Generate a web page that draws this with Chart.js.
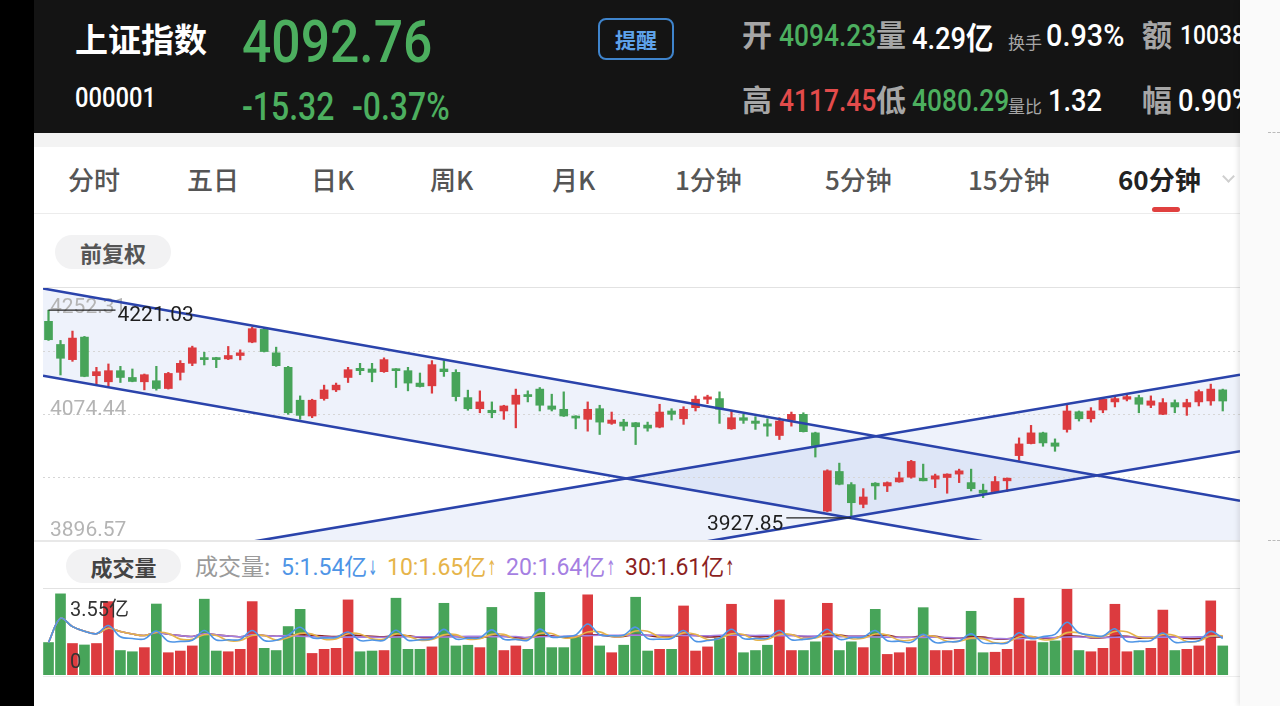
<!DOCTYPE html>
<html><head><meta charset="utf-8">
<script src="https://cdn.jsdelivr.net/npm/chart.js@4.4.1/dist/chart.umd.min.js"></script>
<style>
html,body{margin:0;padding:0;}
body{width:1280px;height:706px;overflow:hidden;background:#000;position:relative;font-family:"Noto Sans CJK SC","Noto Sans",sans-serif;}
.abs{position:absolute;white-space:nowrap;line-height:1;}
.num{font-family:Roboto,"Noto Sans CJK SC",sans-serif;transform-origin:left top;}
.hn{font-weight:500;}
.gray{color:#a6a6a6;font-weight:700;font-size:30px;}
.tab{position:absolute;top:166px;font-size:26px;color:#555;line-height:1;white-space:nowrap;font-weight:500;}
.pill{position:absolute;background:#f2f2f3;border-radius:17px;text-align:center;line-height:34px;height:34px;}
.arr{display:inline-block;font-family:"DejaVu Sans";font-size:20px;transform:scaleX(.55);width:10px;margin-left:-1px;}
</style></head>
<body>
<div style="position:absolute;left:34px;top:0;width:1206px;height:706px;background:#fff"></div>
<div style="position:absolute;left:34px;top:0;width:1206px;height:133px;background:#141414"></div>
<div style="position:absolute;left:34px;top:133px;width:1206px;height:14px;background:#f3f3f3"></div>
<div style="position:absolute;left:34px;top:213px;width:1206px;height:1px;background:#ececec"></div>
<div style="position:absolute;left:43px;top:287px;width:1197px;height:1px;background:#e2e2e2"></div>
<div style="position:absolute;left:34px;top:540px;width:1206px;height:2px;background:#e8e8e8"></div>
<div style="position:absolute;left:43px;top:588px;width:1197px;height:1px;background:#e2e2e2"></div>
<div style="position:absolute;left:43px;top:676px;width:1197px;height:1px;background:#eeeeee"></div>

<!-- header -->
<div class="abs" style="left:75px;top:22px;font-size:33px;font-weight:700;color:#fff">上证指数</div>
<div class="abs num hn" style="left:242px;top:12px;font-size:60px;color:#4caf5f;transform:scaleX(.86)">4092.76</div>
<div class="abs num hn" style="left:75px;top:85px;font-size:27px;color:#fff;transform:scaleX(.88)">000001</div>
<div class="abs num hn" style="left:242px;top:88px;font-size:38px;color:#4caf5f;transform:scaleX(.84)">-15.32</div>
<div class="abs num hn" style="left:352px;top:88px;font-size:38px;color:#4caf5f;transform:scaleX(.84)">-0.37%</div>
<div class="abs" style="left:598px;top:18px;width:72px;height:38px;border:2px solid #3f84cc;border-radius:8px;text-align:center;line-height:38px;font-size:21px;font-weight:700;color:#5ea2ea">提醒</div>

<div class="abs gray" style="left:742px;top:18px">开</div>
<div class="abs num hn" style="left:779px;top:20px;font-size:31px;color:#4caf5f;transform:scaleX(.85)">4094.23</div>
<div class="abs gray" style="left:876px;top:18px">量</div>
<div class="abs num hn" style="left:912px;top:20px;font-size:31px;color:#fff;transform:scaleX(.88)">4.29<span style="font-family:'Noto Sans CJK SC';font-weight:700">亿</span></div>
<div class="abs" style="left:1008px;top:33px;font-size:17px;color:#a6a6a6">换手</div>
<div class="abs num hn" style="left:1046px;top:20px;font-size:31px;color:#fff;transform:scaleX(.93)">0.93%</div>
<div class="abs gray" style="left:1142px;top:18px">额</div>
<div class="abs num hn" style="left:1180px;top:22px;font-size:26px;color:#fff;transform:scaleX(.88)">1003807</div>

<div class="abs gray" style="left:742px;top:83px">高</div>
<div class="abs num hn" style="left:779px;top:85px;font-size:31px;color:#e34b4b;transform:scaleX(.85)">4117.45</div>
<div class="abs gray" style="left:876px;top:83px">低</div>
<div class="abs num hn" style="left:912px;top:85px;font-size:31px;color:#4caf5f;transform:scaleX(.85)">4080.29</div>
<div class="abs" style="left:1008px;top:97px;font-size:17px;color:#a6a6a6">量比</div>
<div class="abs num hn" style="left:1048px;top:85px;font-size:31px;color:#fff;transform:scaleX(.88)">1.32</div>
<div class="abs gray" style="left:1142px;top:83px">幅</div>
<div class="abs num hn" style="left:1178px;top:85px;font-size:31px;color:#fff;transform:scaleX(.88)">0.90%</div>

<!-- tabs -->
<div class="tab" style="left:68px">分时</div>
<div class="tab" style="left:187px">五日</div>
<div class="tab" style="left:311px">日K</div>
<div class="tab" style="left:430px">周K</div>
<div class="tab" style="left:552px">月K</div>
<div class="tab" style="left:675px">1分钟</div>
<div class="tab" style="left:825px">5分钟</div>
<div class="tab" style="left:968px">15分钟</div>
<div class="tab" style="left:1118px;font-weight:700;color:#222">60分钟</div>
<div style="position:absolute;left:1152px;top:207px;width:28px;height:5px;border-radius:3px;background:#e0403f"></div>
<div style="position:absolute;left:1224px;top:172px;width:7px;height:7px;border-right:2px solid #cfcfcf;border-bottom:2px solid #cfcfcf;transform:rotate(45deg)"></div>

<div class="pill" style="left:55px;top:235px;width:116px;font-size:22px;color:#555;font-weight:700">前复权</div>
<div class="pill" style="left:66px;top:549px;width:115px;font-size:22px;color:#444;font-weight:700">成交量</div>
<div id="volLegend"></div>

<canvas id="pc" width="1197" height="252" style="position:absolute;left:43px;top:288px"></canvas>
<canvas id="vc" width="1197" height="86" style="position:absolute;left:43px;top:589px"></canvas>

<div style="position:absolute;left:1240px;top:0;width:40px;height:706px;background:#fafafa;box-shadow:-2px 0 5px rgba(0,0,0,0.10);z-index:5"></div>
<div style="position:absolute;left:1268px;top:132px;width:12px;height:1px;border-top:1px dashed #bbb;z-index:6"></div>
<div style="position:absolute;left:1268px;top:540px;width:12px;height:1px;border-top:1px dashed #bbb;z-index:6"></div>

<script>
// ---------------- data ----------------
const opens = [4205.3,4172.6,4151.2,4183.0,4128.5,4119.9,4135.6,4126.0,4119.9,4121.4,
4110.4,4133.2,4146.0,4154.1,4154.1,4152.2,4157.0,4175.9,4193.9,4160.8,
4140.3,4093.9,4071.6,4096.2,4108.5,4126.0,4138.9,4138.0,4134.2,4138.0,
4135.6,4118.1,4114.2,4138.0,4133.2,4097.6,4081.9,4079.7,4078.7,4088.2,
4101.9,4109.6,4085.8,4081.1,4071.6,4066.9,4081.9,4061.2,4063.0,4062.1,
4058.8,4055.9,4078.7,4067.7,4083.4,4095.3,4096.2,4053.5,4069.2,4064.5,
4060.6,4044.1,4065.5,4074.0,4047.8,3937.4,3993.3,3974.8,3946.9,3976.8,
3972.9,3978.6,3985.2,3983.8,3982.5,3984.8,3989.6,3977.6,3966.9,3964.9,
3980.1,4015.7,4032.7,4047.8,4033.6,4052.6,4077.6,4067.7,4080.1,4091.5,
4095.3,4097.6,4086.8,4074.0,4090.5,4084.4,4091.5,4092.9,4108.5];
const highs = [4221.03,4178.3,4191.5,4184.0,4140.3,4145.1,4141.7,4138.0,4130.9,4141.7,
4133.2,4149.8,4170.2,4161.6,4154.5,4169.8,4165.0,4197.2,4195.8,4168.8,
4141.7,4100.0,4095.3,4115.2,4118.1,4140.3,4146.0,4146.0,4153.7,4138.5,
4140.3,4132.3,4149.8,4149.8,4137.0,4108.1,4107.1,4091.5,4086.8,4109.6,
4107.1,4111.8,4102.4,4105.7,4072.0,4091.5,4086.8,4077.2,4066.9,4062.5,
4063.0,4088.2,4081.9,4084.7,4100.0,4101.0,4105.7,4078.7,4074.0,4070.6,
4067.7,4069.2,4077.2,4076.2,4048.8,3995.7,4005.1,3977.6,3969.1,3977.6,
3978.6,3992.4,4009.0,4003.7,3989.6,3990.0,3996.6,3996.6,3975.5,3986.2,
3984.2,4040.7,4058.4,4048.8,4039.3,4088.2,4078.7,4083.4,4097.6,4100.0,
4101.0,4101.0,4100.0,4096.2,4094.3,4095.3,4108.5,4116.6,4109.6];
const lows = [4178.3,4129.5,4148.8,4127.0,4116.7,4113.2,4118.9,4119.9,4108.5,4108.1,
4109.6,4122.4,4142.7,4143.7,4139.9,4151.2,4150.8,4175.0,4162.0,4141.7,
4074.0,4066.9,4069.2,4093.9,4106.1,4118.9,4129.9,4119.9,4133.2,4111.8,
4107.1,4112.5,4103.8,4127.5,4092.9,4079.7,4076.2,4069.1,4066.9,4054.9,
4091.5,4078.7,4078.7,4071.0,4053.5,4050.2,4045.5,4059.8,4051.2,4031.3,
4050.2,4054.9,4065.9,4059.8,4078.7,4089.1,4061.2,4052.7,4061.2,4052.7,
4043.1,4038.4,4057.3,4049.0,4013.7,3936.4,3974.4,3927.85,3942.0,3953.9,
3964.9,3978.1,3983.8,3980.0,3970.5,3962.6,3977.6,3965.8,3956.4,3964.0,
3964.9,4009.0,4032.2,4028.9,4021.8,4048.8,4064.5,4063.0,4076.2,4084.4,
4092.9,4076.2,4083.4,4073.5,4076.2,4072.5,4085.8,4086.8,4078.7];
const closes = [4179.3,4153.1,4181.6,4127.5,4134.2,4135.6,4126.0,4120.4,4129.9,4110.4,
4131.7,4146.0,4167.9,4151.2,4151.2,4157.0,4160.8,4194.9,4162.6,4142.7,
4076.2,4072.5,4093.9,4108.5,4115.2,4137.0,4135.6,4133.2,4151.2,4135.6,
4118.1,4113.2,4144.1,4134.2,4099.0,4081.9,4091.5,4076.2,4085.8,4101.0,
4099.0,4086.8,4081.1,4071.6,4068.7,4081.1,4063.0,4065.9,4057.3,4056.4,
4054.5,4077.2,4074.0,4081.1,4095.3,4098.6,4081.1,4069.2,4065.5,4061.2,
4057.3,4064.5,4074.0,4049.5,4029.9,3994.3,3975.2,3949.2,3957.3,3972.9,
3977.6,3984.3,4007.5,3980.1,3987.2,3989.6,3994.2,3969.1,3962.6,3979.1,
3983.8,4032.2,4047.8,4033.6,4028.9,4078.7,4067.7,4078.7,4095.3,4096.2,
4099.0,4088.2,4092.9,4090.5,4084.4,4090.5,4106.1,4109.6,4092.76];
// volume in 亿
const volumes = [1.34,3.35,1.30,1.24,1.30,3.03,1.01,0.96,1.13,2.93,
0.92,0.99,1.20,3.13,0.99,0.96,1.06,3.03,1.10,1.01,
2.00,2.71,0.89,1.06,1.10,3.10,0.96,0.99,1.01,3.17,
1.06,1.06,1.16,2.96,1.20,1.23,1.13,2.79,1.01,1.20,
1.06,3.41,1.13,1.13,1.55,3.31,1.20,0.92,1.23,3.21,
0.99,1.06,1.06,2.85,0.99,1.16,1.52,2.92,0.92,1.01,
1.23,3.10,1.01,1.01,1.37,2.96,1.01,1.37,1.13,2.71,
0.85,0.92,1.13,2.78,1.01,1.01,1.06,2.63,0.92,0.94,
1.06,3.17,1.41,1.34,1.41,3.55,1.01,0.96,1.10,2.92,
0.96,1.01,1.10,2.68,1.01,1.06,1.20,3.06,1.20];
// trend lines: [candle index, price] endpoints
const trendA = [[-0.46,4251.6],[99.44,3952.0]];
const trendB = [[-0.46,4128.5],[99.44,3830.8]];
const trendC = [[-0.46,3844.3],[99.44,4129.9]];
const trendD = [[-0.46,3736.3],[99.44,4021.8]];
const priceTickValues = [4252.31,4074.44,3896.57];
const priceTickLabels = ['4252.31','4074.44','3896.57'];
const priceGridValues = [4163.375,4074.44,3985.505];
const volTickValues = [3.55,0];
const volTickLabels = ['3.55亿','0'];
const maPeriods = [5,10,20,30];
const maLegend = ['1.54亿','1.65亿','1.64亿','1.61亿'];
const maArrows = ['↓','↑','↑','↑'];
// ---------------------------------------

const xMin = -0.46, xMax = 99.44;
const idx = opens.map((_, i) => i);
const RED = '#dc3b3f', GREEN = '#47a459';
const candleColors = idx.map(i => closes[i] >= opens[i] ? RED : GREEN);
const trendColor = '#2a43ab';
const trendFill = 'rgba(60,105,205,0.085)';
const maColors = ['#4f95e6','#e6b44a','#a57fe2','#8c1f1f'];

(function(){
  const lefts = [281,387,506,625];
  let html = '<div class="abs" style="left:195px;top:554px;font-size:23px;color:#9a9a9a">成交量:</div>';
  maPeriods.forEach((p,k)=>{
    html += '<div class="abs num" style="left:'+lefts[k]+'px;top:554px;font-size:23px;color:'+maColors[k]+'">'+p+':'+maLegend[k].replace('亿','<span style="font-family:\'Noto Sans CJK SC\'">亿</span>')+'<span class="arr">'+maArrows[k]+'</span></div>';
  });
  document.getElementById('volLegend').innerHTML = html;
})();

Chart.defaults.font.family = 'Roboto, "Noto Sans CJK SC", sans-serif';

const seg = line => line.map(p => ({x:p[0], y:p[1]}));
const lineDs = (line, fill) => ({type:'line', data:seg(line), borderColor:trendColor, borderWidth:2.6,
  pointRadius:0, fill: fill ? '+1' : false, backgroundColor:trendFill, order:0});

const pricePlugin = {
  id:'priceDecor',
  beforeDatasetsDraw(chart){
    const {ctx, chartArea, scales:{y}} = chart;
    ctx.save();
    ctx.strokeStyle = '#d6d6d6'; ctx.lineWidth = 1; ctx.setLineDash([2,3]);
    priceGridValues.forEach(v => {
      const py = Math.round(y.getPixelForValue(v)) + 0.5;
      ctx.beginPath(); ctx.moveTo(chartArea.left, py); ctx.lineTo(chartArea.right, py); ctx.stroke();
    });
    ctx.setLineDash([]);
    ctx.fillStyle = '#b4b4b4'; ctx.font = '21px Roboto'; ctx.textBaseline = 'alphabetic';
    const offs = [25, 1, -4];
    priceTickValues.forEach((v,k) => {
      ctx.fillText(priceTickLabels[k], chartArea.left + 7, y.getPixelForValue(v) + offs[k]);
    });
    ctx.restore();
  },
  afterDatasetsDraw(chart){
    const {ctx, scales:{x,y}} = chart;
    let maxI = 0, minI = 0;
    idx.forEach(i => { if (highs[i] > highs[maxI]) maxI = i; if (lows[i] < lows[minI]) minI = i; });
    ctx.save();
    ctx.strokeStyle = '#222'; ctx.lineWidth = 1.2; ctx.fillStyle = '#1e1e1e'; ctx.font = '21px Roboto';
    let px = x.getPixelForValue(maxI), py = y.getPixelForValue(highs[maxI]);
    ctx.beginPath(); ctx.moveTo(px, py); ctx.lineTo(px + 67, py); ctx.stroke();
    ctx.textAlign = 'left'; ctx.fillText(highs[maxI].toFixed(2), px + 69, py + 11);
    px = x.getPixelForValue(minI); py = y.getPixelForValue(lows[minI]);
    ctx.beginPath(); ctx.moveTo(px - 65, py); ctx.lineTo(px, py); ctx.stroke();
    ctx.textAlign = 'right'; ctx.fillText(lows[minI].toFixed(2), px - 68, py + 12);
    ctx.restore();
  }
};

new Chart(document.getElementById('pc'), {
  type:'bar',
  data:{datasets:[
    lineDs(trendA, true), lineDs(trendB, false), lineDs(trendC, true), lineDs(trendD, false),
    {type:'bar', data: idx.map(i => ({x:i, y:[opens[i], closes[i]]})), backgroundColor:candleColors,
      barThickness:8, minBarLength:2, grouped:false, order:1},
    {type:'bar', data: idx.map(i => ({x:i, y:[lows[i], highs[i]]})), backgroundColor:candleColors,
      barThickness:1.6, grouped:false, order:2}
  ]},
  options:{
    responsive:false, devicePixelRatio:1, animation:false, layout:{padding:0},
    scales:{
      x:{type:'linear', min:xMin, max:xMax, display:false, offset:false},
      y:{type:'linear', min:3896.57, max:4252.31, display:false}
    },
    plugins:{legend:{display:false}, tooltip:{enabled:false}, filler:{drawTime:'beforeDatasetsDraw'}}
  },
  plugins:[pricePlugin]
});

function movingAvg(arr, n){
  return arr.map((_, i) => { const w = arr.slice(Math.max(0, i - n + 1), i + 1); return w.reduce((a,b)=>a+b,0) / w.length; });
}

const volPlugin = {
  id:'volDecor',
  afterDatasetsDraw(chart){
    const {ctx, chartArea, scales:{y}} = chart;
    ctx.save();
    ctx.fillStyle = '#333'; ctx.font = '20px Roboto, "Noto Sans CJK SC"'; ctx.textBaseline = 'alphabetic';
    const offs = [27, -7];
    volTickValues.forEach((v,k) => ctx.fillText(volTickLabels[k], chartArea.left + 27, y.getPixelForValue(v) + offs[k]));
    ctx.restore();
  }
};

new Chart(document.getElementById('vc'), {
  type:'bar',
  data:{datasets:[
    ...maPeriods.map((p,k) => ({type:'line', data: movingAvg(volumes, p).map((v,i)=>({x:i, y:v})),
      borderColor:maColors[k], borderWidth:1.6, pointRadius:0, tension:0.35, fill:false, order:0})),
    {type:'bar', data: idx.map(i => ({x:i, y:volumes[i]})), backgroundColor:candleColors,
      barThickness:10, grouped:false, order:1}
  ]},
  options:{
    responsive:false, devicePixelRatio:1, animation:false, layout:{padding:0},
    scales:{
      x:{type:'linear', min:xMin, max:xMax, display:false, offset:false},
      y:{type:'linear', min:0, max:3.55, display:false}
    },
    plugins:{legend:{display:false}, tooltip:{enabled:false}}
  },
  plugins:[volPlugin]
});
</script>
</body></html>
